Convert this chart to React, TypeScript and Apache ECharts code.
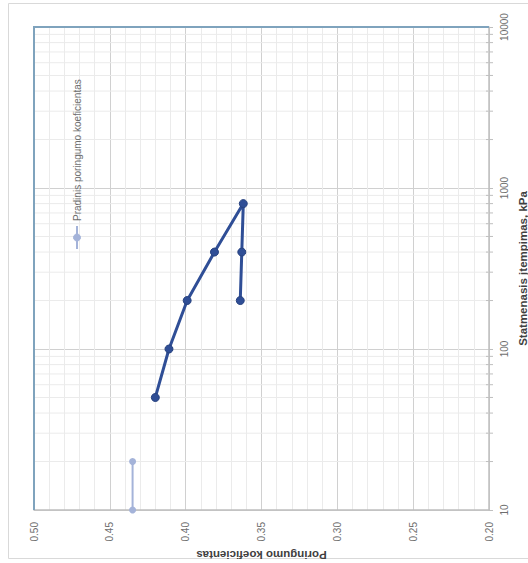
import React, { useEffect, useRef } from "react";
import * as echarts from "echarts";

// Initial void ratio (series 1)
const initialPressure = [10, 20];
const initialVoid = [0.435, 0.435];
// Loading / unloading curve (series 2)
const pressure = [50, 100, 200, 400, 800, 400, 200];
const voidRatio = [0.42, 0.411, 0.399, 0.381, 0.362, 0.363, 0.364];
// Minor log gridlines
const minorPressures = [
  20, 30, 40, 50, 60, 70, 80, 90,
  200, 300, 400, 500, 600, 700, 800, 900,
  2000, 3000, 4000, 5000, 6000, 7000, 8000, 9000,
];
const legendLabel = "Pradinis poringumo koeficientas";
const xTitle = "Poringumo koeficientas";
const yTitle = "Statmenasis įtempimas, kPa";

const FONT = "Liberation Sans";

export default function App() {
  const ref = useRef<HTMLDivElement>(null);
  useEffect(() => {
    if (!ref.current) return;
    const chart = echarts.init(ref.current, null, { renderer: "svg" });
    const option: any = {
      animation: false,
      backgroundColor: "#ffffff",
      textStyle: { fontFamily: FONT },
      grid: {
        left: 34,
        right: 39,
        top: 27,
        bottom: 53,
        show: false,
        containLabel: false,
        outerBoundsMode: "none",
      },
      xAxis: {
        type: "value",
        min: 0.2,
        max: 0.5,
        interval: 0.05,
        inverse: true,
        position: "bottom",
        name: xTitle,
        nameLocation: "middle",
        nameRotate: 180,
        nameGap: 36,
        nameTextStyle: { fontFamily: FONT, fontSize: 11.5, fontWeight: "bold", color: "#404040" },
        axisLine: { show: true, lineStyle: { color: "#BFBFBF", width: 1.5 } },
        axisTick: { show: false },
        axisLabel: {
          rotate: 90,
          margin: 12,
          fontSize: 10,
          color: "#6E6E6E",
          fontFamily: FONT,
          formatter: (v: number) => v.toFixed(2),
        },
        splitLine: { show: true, lineStyle: { color: "#D0D0D0", width: 1 } },
        minorTick: { show: false, splitNumber: 5 },
        minorSplitLine: { show: true, lineStyle: { color: "#EBEBEB", width: 1 } },
      },
      yAxis: {
        type: "log",
        logBase: 10,
        min: 10,
        max: 10000,
        position: "right",
        name: yTitle,
        nameLocation: "middle",
        nameRotate: 90,
        nameGap: 26,
        nameTextStyle: { fontFamily: FONT, fontSize: 11.5, fontWeight: "bold", color: "#404040" },
        axisLine: { show: true, lineStyle: { color: "#BFBFBF", width: 1.5 } },
        axisTick: { show: true, inside: false, length: 4, lineStyle: { color: "#BFBFBF" } },
        axisLabel: {
          rotate: 90,
          margin: 10,
          fontSize: 10,
          color: "#6E6E6E",
          fontFamily: FONT,
          formatter: (v: number) => String(Math.round(v)),
        },
        splitLine: { show: true, lineStyle: { color: "#D0D0D0", width: 1 } },
        minorTick: { show: false },
        minorSplitLine: { show: false },
      },
      legend: { show: false },
      graphic: [
        {
          type: "rect",
          shape: { x: 8.5, y: 3.5, width: 530, height: 555 },
          style: { fill: "none", stroke: "#D9D9D9", lineWidth: 1 },
          silent: true,
          z: -10,
        },
        {
          type: "line",
          shape: { x1: 77, y1: 226, x2: 77, y2: 249 },
          style: { stroke: "#A4B3D9", lineWidth: 2 },
          z: 10,
        },
        {
          type: "circle",
          shape: { cx: 77, cy: 237.5, r: 3.5 },
          style: { fill: "#A4B3D9", stroke: "#A4B3D9" },
          z: 11,
        },
        {
          type: "text",
          x: 77,
          y: 221,
          rotation: Math.PI / 2,
          style: {
            text: legendLabel,
            fontFamily: FONT,
            fontSize: 10,
            fill: "#6E6E6E",
            align: "left",
            verticalAlign: "middle",
          },
          z: 11,
        },
      ],
      series: [
        {
          type: "custom",
          silent: true,
          z: 1,
          encode: { x: 0, y: 1 },
          data: minorPressures.map((v) => [0.35, v]),
          renderItem: (params: any, api: any) => {
            const v = api.value(1);
            const p1 = api.coord([0.5, v]);
            const p2 = api.coord([0.2, v]);
            return {
              type: "group",
              children: [
                {
                  type: "line",
                  shape: { x1: p1[0], y1: p1[1], x2: p2[0], y2: p2[1] },
                  style: { stroke: "#EBEBEB", lineWidth: 1 },
                },
                {
                  type: "line",
                  shape: { x1: p2[0] - 3, y1: p2[1], x2: p2[0] + 4, y2: p2[1] },
                  style: { stroke: "#BFBFBF", lineWidth: 1 },
                },
              ],
            };
          },
        },
        {
          // plot-area frame: top and left edges (steel blue)
          type: "custom",
          silent: true,
          z: 3,
          encode: { x: 0, y: 1 },
          data: [[0.5, 10000]],
          renderItem: (params: any, api: any) => {
            const tl = api.coord([0.5, 10000]);
            const tr = api.coord([0.2, 10000]);
            const bl = api.coord([0.5, 10]);
            return {
              type: "polyline",
              shape: { points: [bl, tl, tr] },
              style: { stroke: "#7FA3BD", lineWidth: 2, fill: "none" },
            };
          },
        },
        {
          name: legendLabel,
          type: "line",
          z: 5,
          data: initialPressure.map((p, i) => [initialVoid[i], p]),
          symbol: "circle",
          symbolSize: 7,
          itemStyle: { color: "#A4B3D9" },
          lineStyle: { color: "#A4B3D9", width: 2 },
        },
        {
          name: "Kreivė",
          type: "line",
          z: 6,
          data: pressure.map((p, i) => [voidRatio[i], p]),
          symbol: "circle",
          symbolSize: 8,
          itemStyle: { color: "#2F4E96", borderColor: "#27427F", borderWidth: 1 },
          lineStyle: { color: "#2F4E96", width: 3 },
        },
      ],
    };
    chart.setOption(option);
    return () => chart.dispose();
  }, []);
  return (
    <div
      ref={ref}
      style={{ position: "fixed", left: 0, top: 0, width: 528, height: 563 }}
    />
  );
}
